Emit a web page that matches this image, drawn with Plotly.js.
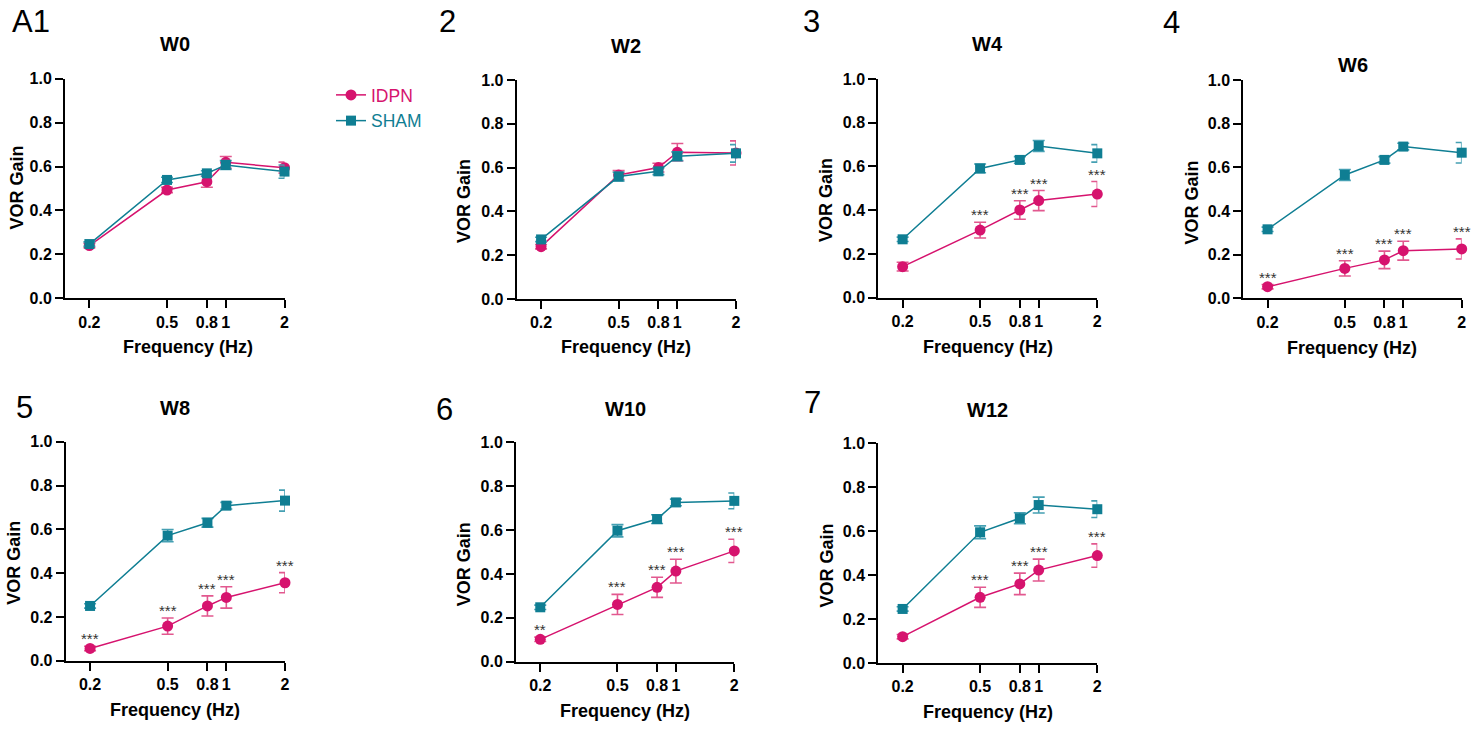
<!DOCTYPE html>
<html>
<head>
<meta charset="utf-8">
<script src="https://cdn.plot.ly/plotly-3.0.1.min.js"></script>
<style>html,body{margin:0;padding:0;background:#fff;}#chart{width:1481px;height:731px;}</style>
</head>
<body>
<div id="chart"></div>
<script>
// ---------- data ----------
const freq = [0.2, 0.5, 0.8, 1, 2];
const freqLabels = ['0.2', '0.5', '0.8', '1', '2'];
const weeks = ['W0', 'W2', 'W4', 'W6', 'W8', 'W10', 'W12'];
const panelLabels = ['A1', '2', '3', '4', '5', '6', '7'];

const idpnW0 = [0.240, 0.493, 0.531, 0.619, 0.595];
const idpnErrW0 = [0.010, 0.012, 0.025, 0.027, 0.025];
const shamW0 = [0.247, 0.539, 0.569, 0.607, 0.577];
const shamErrW0 = [0.010, 0.012, 0.012, 0.020, 0.030];

const idpnW2 = [0.239, 0.566, 0.600, 0.670, 0.667];
const idpnErrW2 = [0.010, 0.020, 0.020, 0.040, 0.055];
const shamW2 = [0.272, 0.559, 0.583, 0.652, 0.665];
const shamErrW2 = [0.010, 0.020, 0.015, 0.020, 0.040];

const idpnW4 = [0.142, 0.309, 0.401, 0.444, 0.474];
const idpnErrW4 = [0.020, 0.036, 0.042, 0.046, 0.057];
const shamW4 = [0.267, 0.591, 0.630, 0.694, 0.660];
const shamErrW4 = [0.010, 0.020, 0.015, 0.025, 0.040];

const idpnW6 = [0.053, 0.137, 0.176, 0.218, 0.226];
const idpnErrW6 = [0.010, 0.035, 0.040, 0.043, 0.046];
const shamW6 = [0.316, 0.565, 0.634, 0.695, 0.667];
const shamErrW6 = [0.010, 0.025, 0.015, 0.015, 0.047];

const idpnW8 = [0.056, 0.158, 0.250, 0.289, 0.356];
const idpnErrW8 = [0.010, 0.037, 0.046, 0.049, 0.046];
const shamW8 = [0.250, 0.571, 0.630, 0.708, 0.731];
const shamErrW8 = [0.010, 0.028, 0.020, 0.015, 0.048];

const idpnW10 = [0.102, 0.261, 0.339, 0.413, 0.505];
const idpnErrW10 = [0.010, 0.046, 0.046, 0.054, 0.053];
const shamW10 = [0.248, 0.597, 0.650, 0.726, 0.733];
const shamErrW10 = [0.010, 0.028, 0.020, 0.015, 0.036];

const idpnW12 = [0.120, 0.299, 0.360, 0.423, 0.489];
const idpnErrW12 = [0.010, 0.046, 0.049, 0.050, 0.053];
const shamW12 = [0.246, 0.595, 0.659, 0.719, 0.700];
const shamErrW12 = [0.010, 0.029, 0.025, 0.036, 0.038];

const starsW0 = ['', '', '', '', ''];
const starsW2 = ['', '', '', '', ''];
const starsW4 = ['', '***', '***', '***', '***'];
const starsW6 = ['***', '***', '***', '***', '***'];
const starsW8 = ['***', '***', '***', '***', '***'];
const starsW10 = ['**', '***', '***', '***', '***'];
const starsW12 = ['', '***', '***', '***', '***'];

const idpnAll = [idpnW0, idpnW2, idpnW4, idpnW6, idpnW8, idpnW10, idpnW12];
const idpnErrAll = [idpnErrW0, idpnErrW2, idpnErrW4, idpnErrW6, idpnErrW8, idpnErrW10, idpnErrW12];
const shamAll = [shamW0, shamW2, shamW4, shamW6, shamW8, shamW10, shamW12];
const shamErrAll = [shamErrW0, shamErrW2, shamErrW4, shamErrW6, shamErrW8, shamErrW10, shamErrW12];
const starsAll = [starsW0, starsW2, starsW4, starsW6, starsW8, starsW10, starsW12];

// ---------- layout geometry (pixels) ----------
const W = 1481, H = 731;
const FONT = 'Liberation Sans, Arial, Helvetica, sans-serif';
const IDPN_COLOR = '#D6136E', IDPN_ERR = '#E2588F';
const SHAM_COLOR = '#0F7E93', SHAM_ERR = '#45A0B3';
// plot boxes: [left, right, top, bottom]
const boxes = [
  [65, 284.5, 78.7, 298.3],
  [516.7, 736, 80, 299],
  [878.3, 1097.3, 79, 297.7],
  [1243.3, 1461.7, 80, 298.3],
  [65.7, 285, 441.7, 660.7],
  [516, 734.3, 442.3, 661.7],
  [878.3, 1097.3, 443.3, 663]
];
const labelPos = [[10, 21.5], [437, 21.5], [801, 21.5], [1161, 22], [14, 407.5], [434, 409], [802, 402.5]];
const titlePos = [[174.75, 43.5], [626.3, 46], [987.8, 44], [1352.5, 65], [175.3, 407.5], [625.2, 408.5], [987.8, 410]];
const yTitlePos = [[17, 187.5], [464, 201], [826, 200], [1191, 202.5], [14.5, 563.3], [463.7, 564.5], [826.7, 565.7]];
const xTitlePos = [[187.5, 347], [626.3, 346.7], [987.8, 346.7], [1351.7, 348.3], [175.3, 710], [624.7, 710.7], [987.8, 711.7]];

const px = x => x / W;
const py = y => 1 - y / H;

const traces = [];
const annotations = [];
const layout = {
  width: W, height: H,
  margin: {l: 0, r: 0, t: 0, b: 0},
  paper_bgcolor: '#fff', plot_bgcolor: '#fff',
  font: {family: FONT, color: '#000'},
  showlegend: true,
  legend: {
    x: px(331), y: py(77), xanchor: 'left', yanchor: 'top',
    font: {family: FONT, size: 17.5},
    bgcolor: 'rgba(0,0,0,0)', itemwidth: 30, tracegroupgap: 0
  },
  annotations: annotations
};

const xRange = [Math.log10(0.2) - 0.125, Math.log10(2)];

weeks.forEach((wk, i) => {
  const n = i + 1;
  const xa = 'x' + (n === 1 ? '' : n), ya = 'y' + (n === 1 ? '' : n);
  const b = boxes[i];
  layout['xaxis' + (n === 1 ? '' : n)] = {
    type: 'log', range: xRange, domain: [px(b[0]), px(b[1])], anchor: ya,
    tickmode: 'array', tickvals: freq, ticktext: freqLabels, tickangle: 0,
    ticks: 'outside', ticklen: 8, tickwidth: 2, tickcolor: '#000',
    showline: true, linewidth: 2, linecolor: '#000', showgrid: false, zeroline: false,
    tickfont: {family: FONT, size: 16, color: '#000', weight: 'bold'}, fixedrange: true
  };
  layout['yaxis' + (n === 1 ? '' : n)] = {
    range: [0, 1], domain: [py(b[3]), py(b[2])], anchor: xa,
    tickmode: 'linear', tick0: 0, dtick: 0.2, tickformat: '.1f',
    ticks: 'outside', ticklen: 8, tickwidth: 2, tickcolor: '#000',
    showline: true, linewidth: 2, linecolor: '#000', showgrid: false, zeroline: false,
    tickfont: {family: FONT, size: 16, color: '#000', weight: 'bold'}, fixedrange: true
  };

  traces.push({
    type: 'scatter', mode: 'lines+markers', x: freq, y: idpnAll[i], xaxis: xa, yaxis: ya,
    name: '<span style="color:' + IDPN_COLOR + '">IDPN</span>', legendgroup: 'idpn', showlegend: i === 0,
    line: {color: IDPN_COLOR, width: 1.5},
    marker: {symbol: 'circle', size: 11, color: IDPN_COLOR},
    error_y: {type: 'data', array: idpnErrAll[i], visible: true, color: IDPN_ERR, thickness: 1.6, width: 6},
    cliponaxis: false, hoverinfo: 'skip'
  });
  traces.push({
    type: 'scatter', mode: 'lines+markers', x: freq, y: shamAll[i], xaxis: xa, yaxis: ya,
    name: '<span style="color:' + SHAM_COLOR + '">SHAM</span>', legendgroup: 'sham', showlegend: i === 0,
    line: {color: SHAM_COLOR, width: 1.5},
    marker: {symbol: 'square', size: 10, color: SHAM_COLOR},
    error_y: {type: 'data', array: shamErrAll[i], visible: true, color: SHAM_ERR, thickness: 1.6, width: 6},
    cliponaxis: false, hoverinfo: 'skip'
  });

  // significance stars
  starsAll[i].forEach((s, k) => {
    if (!s) return;
    annotations.push({
      xref: xa, yref: ya, x: Math.log10(freq[k]), y: idpnAll[i][k] + idpnErrAll[i][k],
      text: s, showarrow: false, xanchor: 'center', yanchor: 'bottom', yshift: -3,
      font: {family: FONT, size: 15, color: '#333'}
    });
  });

  // panel label
  annotations.push({
    xref: 'paper', yref: 'paper', x: px(labelPos[i][0]), y: py(labelPos[i][1]),
    xanchor: 'left', yanchor: 'middle', text: panelLabels[i], showarrow: false,
    font: {family: FONT, size: 31, color: '#000'}
  });
  // title
  annotations.push({
    xref: 'paper', yref: 'paper', x: px(titlePos[i][0]), y: py(titlePos[i][1]),
    xanchor: 'center', yanchor: 'middle', text: wk, showarrow: false,
    font: {family: FONT, size: 20, color: '#000', weight: 'bold'}
  });
  // y title
  annotations.push({
    xref: 'paper', yref: 'paper', x: px(yTitlePos[i][0]), y: py(yTitlePos[i][1]),
    xanchor: 'center', yanchor: 'middle', text: 'VOR Gain', textangle: -90, showarrow: false,
    font: {family: FONT, size: 18, color: '#000', weight: 'bold'}
  });
  // x title
  annotations.push({
    xref: 'paper', yref: 'paper', x: px(xTitlePos[i][0]), y: py(xTitlePos[i][1]),
    xanchor: 'center', yanchor: 'middle', text: 'Frequency (Hz)', showarrow: false,
    font: {family: FONT, size: 18, color: '#000', weight: 'bold'}
  });
});

Plotly.newPlot('chart', traces, layout, {displayModeBar: false, staticPlot: true});
</script>
</body>
</html>
